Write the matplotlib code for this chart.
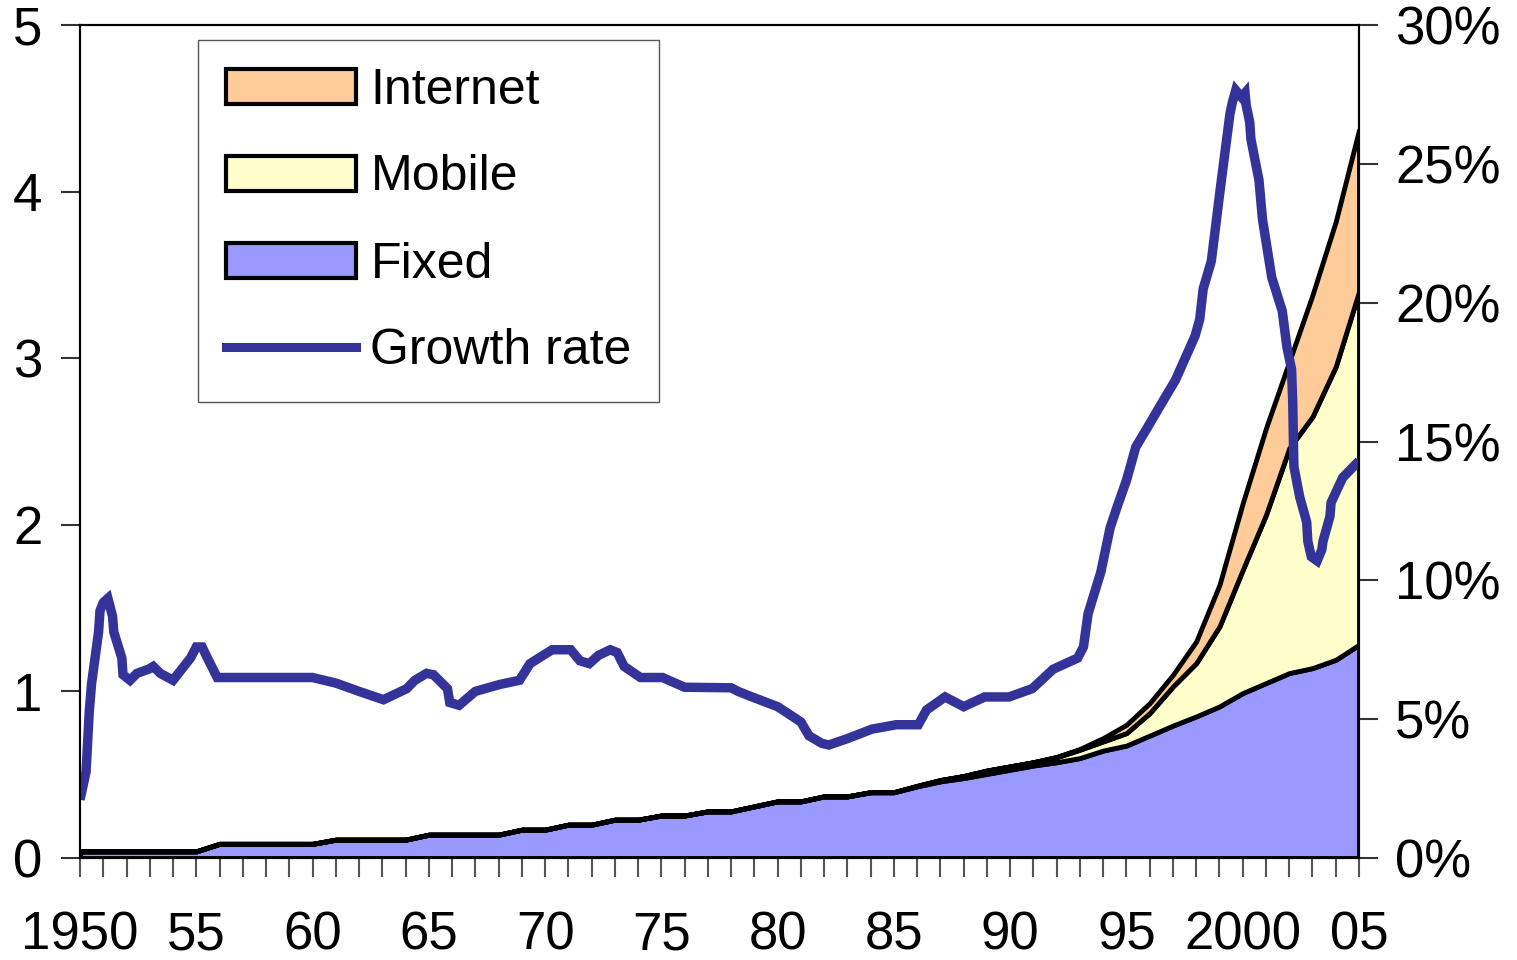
import matplotlib
matplotlib.use("Agg")
import matplotlib.pyplot as plt
from matplotlib.patches import Patch
from matplotlib.lines import Line2D

plt.rcParams['font.family'] = ['Liberation Sans', 'DejaVu Sans']

# subscribers, billions, one value per year 1950..2005
years = list(range(1950, 2006))
fixed = [0.04] * 6 + [0.085] * 5 + [0.11] * 4 + [0.14] * 4 + \
    [0.17, 0.17, 0.20, 0.20, 0.23, 0.23, 0.255, 0.255, 0.28, 0.28, 0.31,
     0.34, 0.34, 0.37, 0.37, 0.395, 0.395, 0.43, 0.46, 0.48, 0.505, 0.53,
     0.555, 0.575, 0.60, 0.645, 0.675, 0.735, 0.795, 0.85, 0.91, 0.99,
     1.05, 1.11, 1.14, 1.19, 1.28]
mobile = [0.0] * 36 + \
    [0.003, 0.008, 0.012, 0.02, 0.02, 0.02, 0.03, 0.05, 0.055, 0.075,
     0.135, 0.235, 0.32, 0.48, 0.74, 1.01, 1.35, 1.51, 1.76, 2.12]
internet = [0.0] * 42 + \
    [0.002, 0.005, 0.02, 0.05, 0.06, 0.07, 0.13, 0.25, 0.40, 0.52, 0.52,
     0.73, 0.87, 0.97]

# growth rate, percent
growth_year = [1950.0, 1950.26, 1950.4, 1950.5, 1950.8, 1950.86, 1951.0, 1951.2,
               1951.4, 1951.45, 1951.8, 1951.85, 1952.15, 1952.45, 1952.95, 1953.15,
               1953.45, 1954.0, 1954.75, 1955.0, 1955.25, 1955.45, 1955.9, 1960.0,
               1961.0, 1962.0, 1963.05, 1964.05, 1964.4, 1964.9, 1965.2, 1965.8,
               1965.9, 1966.3, 1967.0, 1968.05, 1968.9, 1969.35, 1970.3, 1971.1,
               1971.5, 1971.9, 1972.3, 1972.8, 1973.1, 1973.4, 1974.1, 1975.05,
               1976.0, 1978.0, 1978.3, 1978.9, 1980.0, 1981.0, 1981.35, 1981.9,
               1982.2, 1983.0, 1984.05, 1985.1, 1986.05, 1986.4, 1987.2, 1988.0,
               1988.9, 1989.95, 1990.95, 1991.85, 1992.9, 1993.15, 1993.35, 1993.9,
               1994.3, 1994.6, 1995.0, 1995.4, 1995.9, 1996.6, 1997.1, 1997.95,
               1998.15, 1998.3, 1998.65, 1999.05, 1999.45, 1999.55, 1999.7, 1999.95,
               2000.1, 2000.15, 2000.3, 2000.35, 2000.7, 2000.85, 2001.25, 2001.7,
               2001.9, 2002.1, 2002.15, 2002.2, 2002.45, 2002.75, 2002.8, 2002.95,
               2003.2, 2003.4, 2003.45, 2003.75, 2003.8, 2004.3, 2005.0]
growth_pct = [2.1, 3.1, 5.3, 6.3, 8.15, 8.9, 9.2, 9.35,
              8.7, 8.15, 7.2, 6.6, 6.4, 6.65, 6.8, 6.9,
              6.65, 6.4, 7.2, 7.6, 7.6, 7.25, 6.5, 6.5,
              6.3, 6.0, 5.7, 6.1, 6.4, 6.65, 6.6, 6.1,
              5.6, 5.5, 6.0, 6.25, 6.4, 7.0, 7.5, 7.5,
              7.1, 7.0, 7.3, 7.5, 7.4, 6.9, 6.5, 6.5,
              6.15, 6.13, 6.0, 5.8, 5.45, 4.9, 4.4, 4.13,
              4.07, 4.3, 4.64, 4.8, 4.8, 5.33, 5.8, 5.45,
              5.8, 5.8, 6.1, 6.8, 7.2, 7.6, 8.8, 10.3,
              11.9, 12.65, 13.6, 14.8, 15.5, 16.5, 17.2, 18.8,
              19.4, 20.5, 21.5, 24.2, 26.8, 27.2, 27.65, 27.4,
              27.55, 27.1, 26.5, 25.9, 24.4, 23.0, 20.9, 19.7,
              18.4, 17.6, 16.4, 14.1, 13.0, 12.1, 11.4, 10.85,
              10.7, 11.1, 11.4, 12.3, 12.8, 13.7, 14.3]

x_major = [1950, 1955, 1960, 1965, 1970, 1975, 1980, 1985, 1990, 1995, 2000, 2005]
x_labels = ['1950', '55', '60', '65', '70', '75', '80', '85', '90', '95', '2000', '05']
left_ticks = [0, 1, 2, 3, 4, 5]
right_ticks = [0, 5, 10, 15, 20, 25, 30]

C_FIXED = '#9999FF'
C_MOBILE = '#FFFFCC'
C_NET = '#FFCC99'
C_GROWTH = '#333399'

fig = plt.figure(figsize=(15.17, 9.6), dpi=100)
ax = fig.add_axes([80 / 1517, 1 - 858 / 960, 1279 / 1517, 833 / 960])

ax.stackplot(years, fixed, mobile, internet,
             colors=[C_FIXED, C_MOBILE, C_NET], edgecolor='black', linewidth=3.5)
ax.set_xlim(1950, 2005)
ax.set_ylim(0, 5)
ax.set_xticks(x_major)
ax.set_xticklabels(x_labels)
ax.set_xticks(years, minor=True)
ax.set_yticks(left_ticks)
ax.tick_params(axis='x', which='both', length=14, width=1.5, color='#555555',
               direction='out', labelsize=38, pad=24)
ax.tick_params(axis='y', length=14, width=1.5, color='#333333',
               direction='out', labelsize=38, pad=13)
for s in ax.spines.values():
    s.set_linewidth(1.5)

ax2 = ax.twinx()
ax2.plot(growth_year, growth_pct, color=C_GROWTH, lw=6.8,
         solid_joinstyle='miter', solid_capstyle='butt')
ax2.set_ylim(0, 30)
ax2.set_yticks(right_ticks)
ax2.set_yticklabels([f'{v}%' for v in right_ticks])
ax2.tick_params(axis='y', length=14, width=1.5, color='#333333',
                direction='out', labelsize=38, pad=12)
for s in ax2.spines.values():
    s.set_linewidth(1.5)

handles = [Patch(facecolor=C_NET, edgecolor='black', lw=3),
           Patch(facecolor=C_MOBILE, edgecolor='black', lw=3),
           Patch(facecolor=C_FIXED, edgecolor='black', lw=3),
           Line2D([], [], color=C_GROWTH, lw=6.5)]
leg = ax2.legend(handles, ['Internet', 'Mobile', 'Fixed', 'Growth rate'],
                 loc='upper left', bbox_to_anchor=(198 / 1517, 1 - 40 / 960),
                 bbox_transform=fig.transFigure, fontsize=36,
                 handlelength=2.6, handleheight=0.7, labelspacing=0.82,
                 handletextpad=0.3, borderpad=0.55, borderaxespad=0,
                 fancybox=False, edgecolor='#555555', framealpha=1)
leg.get_frame().set_linewidth(1)

fig.savefig('out.png', dpi=100)
